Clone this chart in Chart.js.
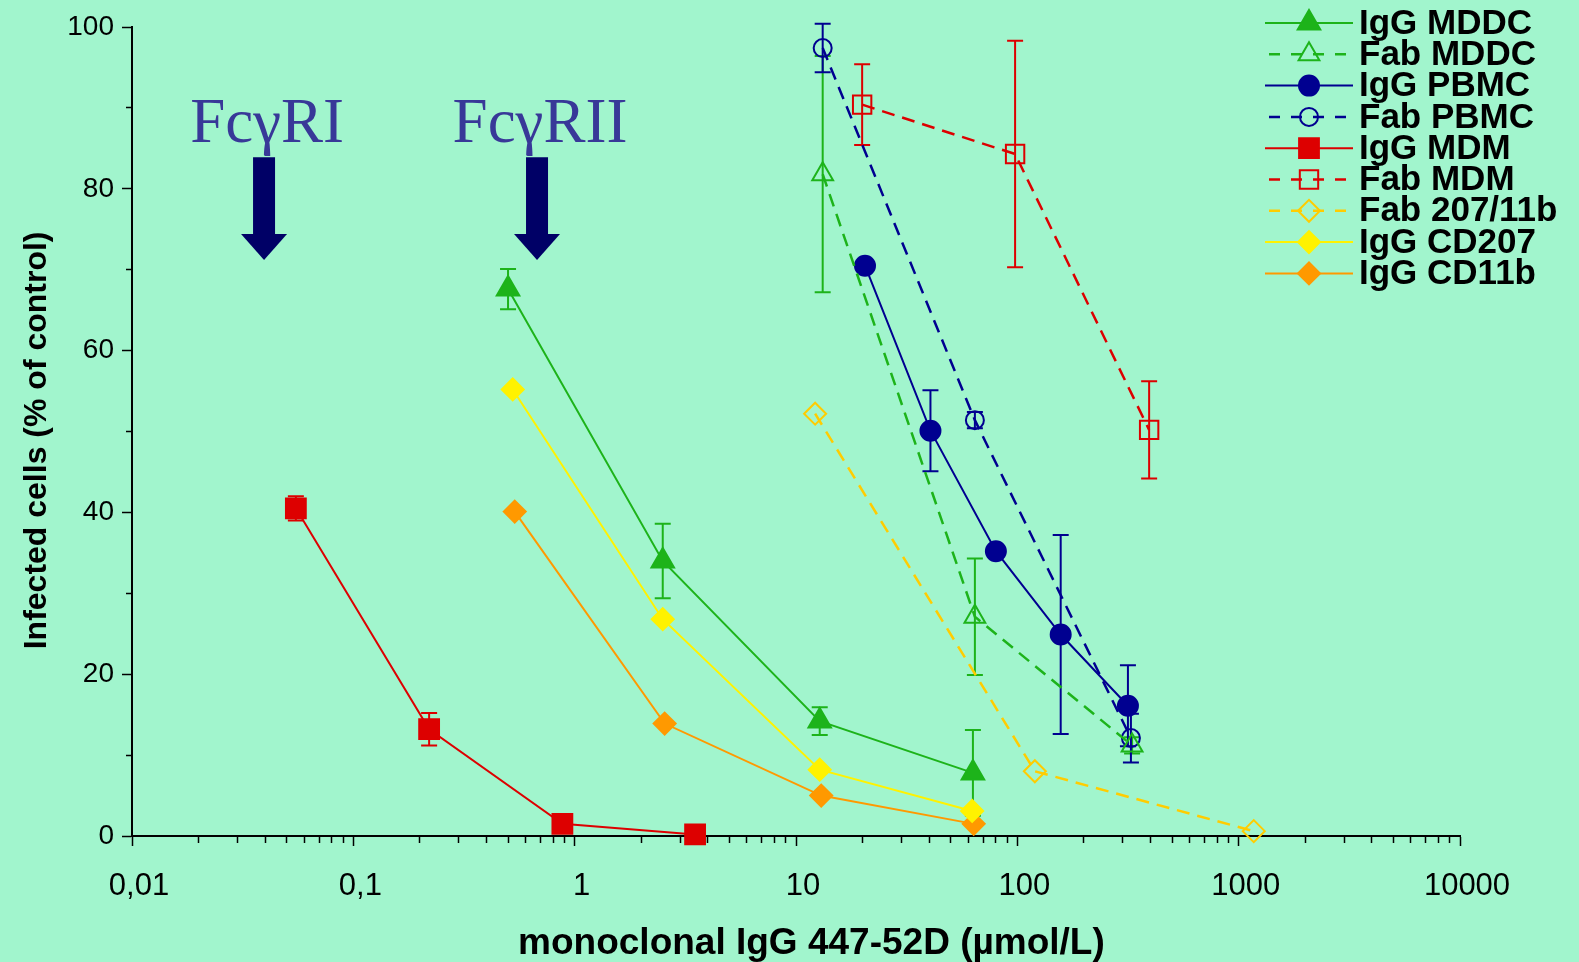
<!DOCTYPE html>
<html>
<head>
<meta charset="utf-8">
<title>Infected cells vs monoclonal IgG 447-52D</title>
<script src="https://cdn.jsdelivr.net/npm/chart.js@4.4.0/dist/chart.umd.min.js"></script>
<style>
  html, body { margin: 0; padding: 0; background: #a1f5cd; }
  #wrap { width: 1579px; height: 962px; position: relative; }
</style>
</head>
<body>
<div id="wrap"><canvas id="chart"></canvas></div>
<script>
const xDecades = [0.01, 0.1, 1, 10, 100, 1000, 10000];
const xTickLabels = ['0,01', '0,1', '1', '10', '100', '1000', '10000'];
const yTickLabels = [0, 20, 40, 60, 80, 100];

const igMddcX = [0.5, 2.5, 12.8, 63];
const igMddcY = [67.6, 34, 14.2, 7.8];
const igMddcErr = [2.5, 4.6, 1.7, 5.3];

const fabMddcX = [13.2, 64.3, 330];
const fabMddcY = [81.8, 27.1, 11.2];
const fabMddcErr = [14.6, 7.2, 1];

const igPbmcX = [20.5, 40.5, 80, 157, 316];
const igPbmcY = [70.5, 50.1, 35.2, 24.9, 16.1];
const igPbmcErr = [0, 5, 0, 12.3, 5];

const fabPbmcX = [13.2, 64.3, 326];
const fabPbmcY = [97.4, 51.4, 12.1];
const fabPbmcErr = [3, 1, 3];

const igMdmX = [0.055, 0.22, 0.88, 3.5];
const igMdmY = [40.5, 13.2, 1.5, 0.2];
const igMdmErr = [1.5, 2, 0, 0];

const fabMdmX = [19.9, 97.7, 394];
const fabMdmY = [90.4, 84.3, 50.2];
const fabMdmErr = [5, 14, 6];

const fab20711bX = [12.2, 120, 1170];
const fab20711bY = [52.2, 8.0, 0.6];

const igCd207X = [0.525, 2.5, 12.8, 62.5];
const igCd207Y = [55.2, 26.8, 8.2, 3.1];

const igCd11bX = [0.536, 2.55, 13, 63.5];
const igCd11bY = [40.1, 13.9, 5.0, 1.5];

const receptorLabels = ['FcγRI', 'FcγRII'];
const receptorX = [0.0395, 0.676];

const GREEN = '#1db31a';
const NAVY = '#000090';
const RED = '#dd0000';
const YELLOW = '#fff200';
const ORANGE = '#ff9900';
const GOLD = '#ffcc00';

Chart.defaults.font.family = '"Liberation Sans", Arial, sans-serif';
Chart.defaults.color = '#000';

function makeSeries(label, xs, ys, errs, color, style, radius, filled, dashed) {
  return {
    label: label,
    data: xs.map((v, i) => ({ x: v, y: ys[i] })),
    errors: errs,
    showLine: true,
    borderColor: color,
    backgroundColor: color,
    borderWidth: dashed ? 2.5 : 2,
    borderDash: dashed ? [13, 8] : [],
    pointStyle: style,
    pointRadius: radius,
    pointBorderColor: color,
    pointBackgroundColor: filled ? color : 'rgba(0,0,0,0)',
    pointBorderWidth: 2,
    clip: false
  };
}

const datasets = [
  makeSeries('IgG MDDC', igMddcX, igMddcY, igMddcErr, GREEN, 'triangle', 13, true, false),
  makeSeries('Fab MDDC', fabMddcX, fabMddcY, fabMddcErr, GREEN, 'triangle', 12, false, true),
  makeSeries('IgG PBMC', igPbmcX, igPbmcY, igPbmcErr, NAVY, 'circle', 10, true, false),
  makeSeries('Fab PBMC', fabPbmcX, fabPbmcY, fabPbmcErr, NAVY, 'circle', 9, false, true),
  makeSeries('IgG MDM', igMdmX, igMdmY, igMdmErr, RED, 'rect', 14, true, false),
  makeSeries('Fab MDM', fabMdmX, fabMdmY, fabMdmErr, RED, 'rect', 13, false, true),
  makeSeries('Fab 207/11b', fab20711bX, fab20711bY, null, GOLD, 'rectRot', 11, false, true),
  makeSeries('IgG CD207', igCd207X, igCd207Y, null, YELLOW, 'rectRot', 11, true, false),
  makeSeries('IgG CD11b', igCd11bX, igCd11bY, null, ORANGE, 'rectRot', 11, true, false)
];

const xTickValues = [];
xDecades.slice(0, -1).forEach(d => {
  for (let m = 1; m <= 9; m++) xTickValues.push(m * d);
});
xTickValues.push(xDecades[xDecades.length - 1]);

// vertical error bars with caps
const errorBars = {
  id: 'errorBars',
  beforeDatasetsDraw(chart) {
    const { ctx, scales: { x, y } } = chart;
    chart.data.datasets.forEach(ds => {
      if (!ds.errors) return;
      ctx.save();
      ctx.strokeStyle = ds.borderColor;
      ctx.lineWidth = 2;
      ds.data.forEach((p, i) => {
        const e = ds.errors[i];
        if (!e) return;
        const px = x.getPixelForValue(p.x);
        const top = y.getPixelForValue(p.y + e);
        const bot = y.getPixelForValue(p.y - e);
        ctx.beginPath();
        ctx.moveTo(px, top); ctx.lineTo(px, bot);
        ctx.moveTo(px - 8, top); ctx.lineTo(px + 8, top);
        ctx.moveTo(px - 8, bot); ctx.lineTo(px + 8, bot);
        ctx.stroke();
      });
      ctx.restore();
    });
  }
};

// receptor labels with arrows
const receptorArrows = {
  id: 'receptorArrows',
  afterDraw(chart) {
    const { ctx, scales: { x, y } } = chart;
    receptorLabels.forEach((label, i) => {
      const px = x.getPixelForValue(receptorX[i]);
      const top = y.getPixelForValue(83.9);
      const neck = y.getPixelForValue(74.4);
      const tip = y.getPixelForValue(71.2);
      ctx.save();
      ctx.fillStyle = '#383898';
      ctx.font = '63px "Liberation Serif", "Times New Roman", serif';
      ctx.textAlign = 'center';
      ctx.textBaseline = 'alphabetic';
      ctx.fillText(label, px + 3, y.getPixelForValue(85.8));
      ctx.fillStyle = '#000066';
      ctx.fillRect(px - 11, top, 22, neck - top);
      ctx.beginPath();
      ctx.moveTo(px - 23, neck);
      ctx.lineTo(px + 23, neck);
      ctx.lineTo(px, tip);
      ctx.closePath();
      ctx.fill();
      ctx.restore();
    });
  }
};

// legend in the top right corner, line sample + marker + bold text
const sideLegend = {
  id: 'sideLegend',
  afterDraw(chart) {
    const ctx = chart.ctx;
    chart.data.datasets.forEach((ds, i) => {
      const yy = 23 + i * 31.3;
      ctx.save();
      ctx.strokeStyle = ds.borderColor;
      ctx.lineWidth = ds.borderWidth;
      ctx.setLineDash(ds.borderDash.length ? [11, 11] : []);
      ctx.beginPath();
      ctx.moveTo(ds.borderDash.length ? 1269 : 1265, yy);
      ctx.lineTo(1353, yy);
      ctx.stroke();
      ctx.setLineDash([]);
      ctx.fillStyle = ds.pointBackgroundColor;
      ctx.lineWidth = 2;
      Chart.helpers.drawPoint(ctx, { pointStyle: ds.pointStyle, radius: ds.pointRadius, rotation: 0, borderWidth: 2 }, 1309, yy);
      ctx.fillStyle = '#000';
      ctx.font = 'bold 35px "Liberation Sans", Arial, sans-serif';
      ctx.textBaseline = 'middle';
      ctx.textAlign = 'left';
      ctx.fillText(ds.label, 1359, yy + 1);
      ctx.restore();
    });
  }
};

new Chart(document.getElementById('chart'), {
  type: 'scatter',
  data: { datasets: datasets },
  plugins: [errorBars, receptorArrows, sideLegend],
  options: {
    responsive: true,
    maintainAspectRatio: false,
    animation: false,
    events: [],
    layout: { padding: { top: 27, right: 119, bottom: 0, left: 0 } },
    plugins: { legend: { display: false }, tooltip: { enabled: false } },
    scales: {
      x: {
        type: 'logarithmic',
        min: 0.01,
        max: 10000,
        afterBuildTicks: scale => { scale.ticks = xTickValues.map(v => ({ value: v })); },
        afterFit: scale => { scale.height = 126; },
        grid: {
          drawOnChartArea: false,
          tickLength: 10,
          tickColor: '#000',
          tickWidth: 1.5,
          tickBorderDash: c => xDecades.includes(c.tick.value) ? [] : [6, 40]
        },
        border: { color: '#000', width: 2 },
        ticks: {
          autoSkip: false,
          maxRotation: 0,
          padding: 22,
          labelOffset: 7,
          font: { size: 31 },
          callback: v => {
            const k = xDecades.indexOf(v);
            return k >= 0 ? xTickLabels[k] : '';
          }
        },
        title: {
          display: true,
          text: '   monoclonal IgG 447-52D (µmol/L)',
          font: { size: 37, weight: 'bold' },
          padding: { top: 0, bottom: -4 }
        }
      },
      y: {
        min: 0,
        max: 100,
        afterBuildTicks: scale => {
          const t = [];
          for (let v = 0; v <= 100; v += 10) t.push({ value: v });
          scale.ticks = t;
        },
        afterFit: scale => { scale.width = 132; },
        grid: {
          drawOnChartArea: false,
          tickLength: 10,
          tickColor: '#000',
          tickWidth: 1.5,
          tickBorderDash: c => yTickLabels.includes(c.tick.value) ? [] : [0, 4, 6, 40]
        },
        border: { color: '#000', width: 2 },
        ticks: {
          padding: 8,
          font: { size: 28 },
          callback: v => yTickLabels.includes(v) ? String(v) : ''
        },
        title: {
          display: true,
          text: 'Infected cells (% of control)  ',
          font: { size: 32, weight: 'bold' },
          padding: { top: 18, bottom: 0 }
        }
      }
    }
  }
});
</script>
</body>
</html>
